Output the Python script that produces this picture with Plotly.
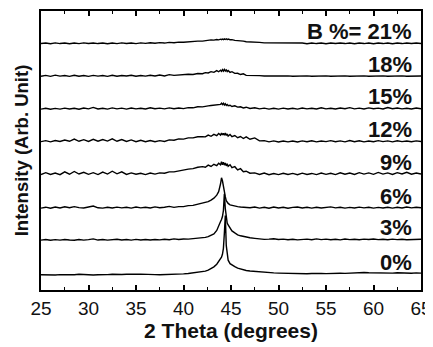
import plotly.graph_objects as go

# 2-theta grid (degrees)
two_theta = [
    25.0, 25.5, 26.0, 26.5, 27.0, 27.5, 28.0, 28.5, 29.0, 29.5, 30.0, 30.5, 31.0, 31.5, 32.0, 32.5, 33.0, 33.5,
    34.0, 34.5, 35.0, 35.5, 36.0, 36.5, 37.0, 37.5, 38.0, 38.5, 39.0, 39.5, 40.0, 40.5, 41.0, 41.5, 42.0,
    42.3, 42.6, 42.9, 43.2, 43.5, 43.7, 43.9, 44.0, 44.1, 44.2, 44.3, 44.4, 44.5, 44.6, 44.7, 44.9, 45.1,
    45.4, 45.7, 46.0, 46.3, 46.6,
    47.0, 47.5, 48.0, 48.5, 49.0, 49.5, 50.0, 50.5, 51.0, 51.5, 52.0, 52.5, 53.0, 53.5, 54.0, 54.5, 55.0,
    55.5, 56.0, 56.5, 57.0, 57.5, 58.0, 58.5, 59.0, 59.5, 60.0, 60.5, 61.0, 61.5, 62.0, 62.5, 63.0, 63.5,
    64.0, 64.5, 65.0,
]

labels = ["0%", "3%", "6%", "9%", "12%", "15%", "18%", "B %= 21%"]
offsets = [15, 50, 82, 116, 149, 182, 215, 248]

i_0 = [
    0.3, 0.0, 0.4, 0.1, 0.5, 0.2, 0.6, 0.3, 0.9, 0.5, 0.3, 0.1, 0.4, 0.2, 0.5, 0.8, 0.4, 0.6,
    0.9, 1.2, 0.8, 1.0, 0.6, 0.8, 0.5, 0.3, 0.4, 0.6, 0.5, 0.8, 1.2, 1.6, 2.2, 2.8, 3.4,
    4.0, 5.0, 6.5, 8.3, 11.0, 13.5, 16.0, 18.0, 21.0, 27.0, 42.0, 60.0, 30.0, 19.0, 15.0, 11.5, 10.0,
    8.5, 7.0, 6.0, 5.3, 4.7,
    4.2, 3.7, 3.1, 2.7, 2.4, 2.2, 2.0, 1.8, 1.6, 1.8, 1.5, 1.7, 1.4, 1.6, 1.3, 1.7, 1.5,
    1.8, 1.6, 1.9, 1.7, 2.0, 1.8, 2.2, 2.6, 2.3, 2.1, 1.9, 2.2, 1.8, 2.0, 2.3, 1.9, 2.1,
    1.8, 2.2, 2.0,
]
i_3 = [
    0.2, 0.8, 0.1, 0.7, 0.2, 0.9, 0.3, 0.1, 0.8, 0.2, 0.7, 1.5, 0.3, 0.8, 0.2, 0.7, 1.1, 0.3,
    0.8, 0.2, 1.0, 0.4, 0.8, 0.3, 0.9, 0.5, 1.1, 0.6, 1.5, 0.8, 1.4, 1.2, 1.8, 1.7, 2.4,
    3.0, 3.8, 5.0, 6.5, 10.0, 15.5, 19.0, 21.0, 24.0, 30.0, 47.0, 32.0, 21.0, 17.5, 15.5, 12.0, 9.5,
    7.5, 5.6, 4.6, 3.8, 3.2,
    2.6, 2.0, 1.4, 1.0, 1.2, 1.6, 0.8, 1.2, 0.6, 1.1, 0.5, 1.0, 1.2, 0.6, 1.5, 0.7, 1.2,
    0.6, 1.1, 0.5, 1.3, 0.7, 1.1, 0.6, 1.2, 0.8, 1.4, 0.7, 1.1, 0.6, 1.2, 0.7, 1.1, 0.6,
    1.0, 0.7, 1.1,
]
i_6 = [
    0.5, 1.4, 0.4, 1.6, 0.6, 1.8, 0.8, 2.0, 1.0, 0.6, 1.6, 2.6, 0.8, 0.5, 1.4, 0.6, 1.5, 0.7,
    1.3, 0.5, 1.6, 0.7, 1.4, 0.6, 1.7, 0.8, 1.4, 2.2, 1.2, 2.0, 2.0, 3.0, 3.2, 4.4, 5.0,
    5.8, 7.0, 8.6, 10.5, 13.5, 17.0, 25.0, 31.0, 28.0, 21.0, 16.0, 12.0, 8.0, 6.5, 5.2, 3.8, 3.2,
    2.6, 2.0, 1.6, 1.2, 1.0,
    0.8, 1.6, 0.5, 1.3, 0.4, 1.5, 0.6, 1.3, 0.4, 1.2, 1.6, 0.6, 1.3, 0.5, 1.4, 0.6, 1.2,
    1.7, 0.7, 1.4, 0.5, 1.2, 0.6, 1.5, 0.7, 1.3, 0.5, 1.2, 0.6, 1.4, 0.5, 1.3, 0.6, 1.6,
    0.7, 1.4, 0.8,
]
i_9 = [
    0.3, 2.2, 0.4, 1.8, 0.2, 3.0, 0.6, 3.4, 0.8, 2.6, 0.5, 2.2, 0.3, 2.8, 0.8, 3.6, 1.0, 3.0,
    0.4, 1.9, 0.6, 1.6, 0.2, 1.8, 0.7, 2.0, 1.6, 3.0, 3.0, 4.0, 4.4, 5.8, 6.2, 7.6, 8.2,
    7.6, 9.8, 8.4, 10.6, 9.2, 11.6, 10.0, 13.2, 10.2, 12.6, 9.8, 12.0, 9.0, 11.2, 8.6, 10.2, 7.2,
    8.2, 5.0, 6.2, 3.2, 3.6,
    1.6, 2.0, 0.4, 1.8, 0.1, 1.3, 0.2, 1.6, 0.3, 1.4, 0.1, 1.7, 0.4, 1.4, 0.2, 1.8, 0.5,
    1.6, 0.2, 2.0, 0.6, 1.8, 0.4, 2.2, 0.7, 1.9, 0.5, 2.4, 0.7, 1.9, 0.4, 2.2, 0.8, 2.6,
    0.6, 1.8, 0.8,
]
i_12 = [
    0.4, 1.4, 0.2, 1.6, 0.6, 2.0, 0.8, 3.0, 0.8, 2.4, 0.6, 2.8, 0.8, 2.6, 1.0, 3.2, 0.8, 2.6,
    0.6, 2.2, 0.4, 1.8, 0.4, 1.6, 0.3, 1.4, 0.6, 2.2, 1.8, 3.2, 3.0, 4.2, 4.2, 5.4, 5.4,
    5.2, 7.0, 5.8, 7.8, 6.4, 8.6, 7.0, 9.0, 7.2, 8.8, 6.8, 9.0, 6.6, 8.2, 6.0, 7.6, 5.4,
    6.6, 4.4, 5.6, 3.6, 5.2,
    2.8, 4.2, 1.2, 1.4, 0.2, 1.2, 0.1, 1.0, 0.2, 1.1, 0.1, 1.2, 0.3, 1.3, 0.2, 1.1, 0.4,
    1.4, 0.3, 1.2, 0.2, 1.6, 0.4, 1.3, 0.2, 1.1, 0.3, 1.4, 0.4, 1.2, 0.2, 1.3, 0.4, 1.1,
    0.3, 1.2, 0.5,
]
i_15 = [
    0.2, 1.1, 0.1, 0.9, 0.2, 1.2, 0.3, 1.0, 0.1, 1.3, 0.4, 1.9, 0.3, 1.1, 0.2, 1.4, 0.4, 1.2,
    0.2, 1.3, 0.4, 1.1, 0.3, 1.5, 0.5, 1.2, 0.4, 1.4, 0.6, 1.3, 0.7, 1.7, 1.5, 2.5, 2.4,
    3.2, 3.4, 3.8, 4.2, 4.6, 5.2, 5.0, 6.2, 4.8, 6.0, 4.4, 5.6, 4.0, 4.9, 3.6, 4.1, 2.8,
    3.5, 2.2, 2.5, 1.4, 2.1,
    0.8, 1.6, 0.4, 1.2, 0.2, 1.1, 0.2, 1.2, 0.3, 1.0, 0.2, 1.3, 0.4, 1.1, 0.3, 1.5, 0.4,
    1.1, 0.3, 1.3, 0.5, 1.7, 0.4, 1.2, 0.3, 1.4, 0.5, 1.2, 0.3, 1.8, 0.5, 1.3, 0.4, 1.1,
    0.3, 1.3, 0.5,
]
i_18 = [
    0.3, 1.2, 0.2, 1.4, 0.4, 1.1, 0.2, 1.3, 0.3, 1.1, 0.2, 1.2, 0.4, 1.0, 0.2, 1.3, 0.3, 1.1,
    0.5, 1.3, 0.3, 1.1, 0.4, 1.3, 0.5, 1.5, 0.6, 1.9, 1.2, 1.6, 1.4, 2.3, 2.0, 3.1, 2.8,
    3.9, 3.6, 4.9, 4.2, 5.9, 4.8, 6.3, 5.2, 6.9, 5.4, 7.1, 5.6, 6.7, 5.0, 6.1, 4.2, 4.9,
    3.2, 3.3, 2.0, 2.7, 1.2,
    1.3, 0.9, 0.9, 0.6, 0.7, 0.4, 0.6, 0.5, 0.7, 0.3, 0.6, 0.4, 0.7, 0.3, 0.6, 0.5, 0.7,
    0.3, 0.6, 0.4, 0.7, 0.3, 0.6, 0.2, 0.7, 0.3, 0.6, 0.4, 0.7, 0.3, 0.6, 0.2, 0.7, 0.3,
    0.6, 0.2, 0.6,
]
i_21 = [
    0.2, 0.8, 0.1, 0.9, 0.2, 0.7, 0.1, 0.8, 0.2, 0.9, 0.3, 0.8, 0.2, 0.7, 0.1, 0.8, 0.2, 0.9,
    0.3, 0.8, 0.2, 0.9, 0.4, 1.0, 0.5, 1.1, 0.7, 1.4, 1.0, 1.7, 1.6, 2.1, 2.1, 2.7, 2.7,
    3.3, 3.2, 3.9, 3.7, 4.3, 3.9, 4.6, 4.1, 4.8, 4.2, 4.9, 4.3, 5.0, 4.2, 4.8, 4.1, 4.2,
    3.4, 3.4, 2.7, 2.7, 2.1,
    2.1, 1.5, 1.4, 0.9, 0.9, 0.5, 0.5, 0.4, 0.4, 0.5, 0.2, 0.7, 0.1, 0.8, 0.2, 0.7, 0.1,
    0.8, 0.3, 0.7, 0.2, 0.8, 0.1, 0.7, 0.2, 0.8, 0.1, 0.7, 0.2, 0.8, 0.1, 0.7, 0.2, 0.8,
    0.3, 0.7, 0.2,
]

series = [i_0, i_3, i_6, i_9, i_12, i_15, i_18, i_21]

FONT = "Arial, Liberation Sans, sans-serif"

fig = go.Figure()
for vals, off in zip(series, offsets):
    fig.add_trace(go.Scatter(
        x=two_theta, y=[v + off for v in vals], mode="lines",
        line=dict(color="black", width=1.4), showlegend=False, hoverinfo="skip",
    ))

for lab, off in zip(labels, offsets):
    fig.add_annotation(
        x=65, y=off, xref="x", yref="y", text="<b>%s</b>" % lab, showarrow=False,
        xanchor="right", yanchor="bottom", xshift=-7, yshift=-2,
        font=dict(family=FONT, size=22, color="#111"),
    )

# page body has an 8px default margin, so the figure is 8px smaller and shifted
fig.update_layout(
    width=425, height=339,
    margin=dict(l=33, r=11, t=1, b=57),
    paper_bgcolor="white", plot_bgcolor="white",
    font=dict(family=FONT, color="#111"),
)
fig.update_xaxes(
    range=[25, 65], tickvals=[25, 30, 35, 40, 45, 50, 55, 60, 65],
    ticks="inside", ticklen=5, tickwidth=1.5, tickcolor="black",
    minor=dict(dtick=2.5, ticks="inside", ticklen=3, tickwidth=1.2, tickcolor="black", showgrid=False),
    showline=True, linewidth=2, linecolor="black", mirror="allticks",
    showgrid=False, zeroline=False, ticklabeloverflow="allow",
    tickfont=dict(family=FONT, size=19, color="#111"),
    title=dict(text="<b>2 Theta (degrees)</b>", font=dict(family=FONT, size=21, color="#111"), standoff=0),
)
fig.update_yaxes(
    range=[0, 281], showticklabels=False, ticks="",
    showline=True, linewidth=2, linecolor="black", mirror=True,
    showgrid=False, zeroline=False,
    title=dict(text="<b>Intensity (Arb. Unit)</b>", font=dict(family=FONT, size=18.5, color="#111"), standoff=6),
)

fig.write_html("out.html")
